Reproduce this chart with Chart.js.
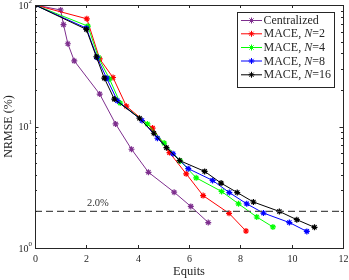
<!DOCTYPE html>
<html>
<head>
<meta charset="utf-8">
<script src="https://cdn.jsdelivr.net/npm/chart.js@4/dist/chart.umd.min.js"></script>
<style>
html,body{margin:0;padding:0;background:#fff;}
#c{display:block;}
</style>
</head>
<body>
<canvas id="c" width="349" height="280"></canvas>
<script>
// ---- data ----
const xTicks = [0, 2, 4, 6, 8, 10, 12];
const yMajorTicks = [1, 10, 100];
const yTickExponents = ['0', '1', '2'];
const thresholdValue = 2.0;
const thresholdLabel = '2.0%';
const xAxisTitle = 'Equits';
const yAxisTitle = 'NRMSE (%)';

const seriesNames = ['Centralized', 'MACE, N=2', 'MACE, N=4', 'MACE, N=8', 'MACE, N=16'];

const equitsCentralized = [0, 1.0, 1.11, 1.28, 1.53, 2.52, 3.14, 3.76, 4.42, 5.42, 6.07, 6.75];
const nrmseCentralized  = [100, 91, 69, 48, 34.7, 18.5, 10.5, 6.5, 4.2, 2.88, 2.2, 1.62];

const equitsN2 = [0, 2.02, 2.52, 3.04, 3.56, 4.58, 5.24, 5.89, 6.55, 7.56, 8.22];
const nrmseN2  = [100, 77, 36, 25.3, 14.7, 9.7, 6.1, 4.08, 2.7, 1.93, 1.38];

const equitsN4 = [0, 2.06, 2.47, 2.9, 3.32, 4.38, 5.03, 5.66, 6.28, 7.27, 7.93, 8.64, 9.27];
const nrmseN4  = [100, 67, 37, 24.7, 15.6, 10.5, 7.3, 5.2, 3.78, 2.92, 2.31, 1.8, 1.49];

const equitsN8 = [0, 2.0, 2.42, 2.79, 3.21, 4.17, 4.77, 5.38, 5.97, 6.92, 7.57, 8.25, 8.9, 9.91, 10.59];
const nrmseN8  = [100, 64.5, 37, 25, 16.3, 11.2, 8.0, 5.96, 4.5, 3.6, 2.86, 2.31, 1.94, 1.62, 1.37];

const equitsN16 = [0, 2.0, 2.39, 2.7, 3.09, 4.07, 4.63, 5.12, 5.63, 6.61, 7.25, 7.88, 8.51, 9.52, 10.2, 10.89];
const nrmseN16  = [100, 63, 37.5, 25, 16.8, 11.7, 8.8, 6.7, 5.25, 4.27, 3.42, 2.86, 2.39, 2.0, 1.71, 1.48];

const seriesColors = ['#7E2F8E', '#FF0000', '#00FF00', '#0000FF', '#000000'];

// ---- build datasets ----
const xsList = [equitsCentralized, equitsN2, equitsN4, equitsN8, equitsN16];
const ysList = [nrmseCentralized, nrmseN2, nrmseN4, nrmseN8, nrmseN16];
const toPts = (xs, ys) => xs.map((x, i) => ({x: x, y: ys[i]}));

const SERIF = "'Liberation Serif','Times New Roman',serif";
const AX = '#262626';

const datasets = seriesNames.map((name, i) => ({
  label: name,
  data: toPts(xsList[i], ysList[i]),
  borderColor: seriesColors[i],
  backgroundColor: seriesColors[i],
  borderWidth: 1,
  pointStyle: 'star',
  pointRadius: 3,
  pointBorderWidth: 1.2,
  pointHoverRadius: 3,
  tension: 0,
  order: 5 - i
}));
datasets.push({
  label: 'threshold',
  data: [{x: xTicks[0], y: thresholdValue}, {x: xTicks[xTicks.length - 1], y: thresholdValue}],
  borderColor: '#4D4D4D',
  borderWidth: 1.4,
  borderDash: [7, 4],
  pointRadius: 0,
  order: 0
});

const framePlugin = {
  id: 'frame',
  afterDraw(chart) {
    const ctx = chart.ctx;
    const a = chart.chartArea;
    const xs = chart.scales.x, ys = chart.scales.y;
    ctx.save();
    // box
    ctx.strokeStyle = AX;
    ctx.lineWidth = 1;
    ctx.strokeRect(Math.round(a.left) + 0.5, Math.round(a.top) + 0.5,
                   Math.round(a.right) - Math.round(a.left), Math.round(a.bottom) - Math.round(a.top));
    // x ticks
    ctx.fillStyle = AX;
    ctx.font = '10px ' + SERIF;
    ctx.textAlign = 'center';
    ctx.textBaseline = 'middle';
    xTicks.forEach(v => {
      const px = Math.round(xs.getPixelForValue(v)) + 0.5;
      ctx.beginPath();
      ctx.moveTo(px, a.bottom); ctx.lineTo(px, a.bottom - 3);
      ctx.moveTo(px, a.top); ctx.lineTo(px, a.top + 3);
      ctx.stroke();
      ctx.fillText(String(v), px, a.bottom + 11);
    });
    // y ticks (log, minor)
    for (let d = 1; d < 100; d *= 10) {
      for (let k = 1; k <= 9; k++) {
        const v = k * d;
        const py = Math.round(ys.getPixelForValue(v)) + 0.5;
        const len = k === 1 ? 3.5 : 2;
        ctx.beginPath();
        ctx.moveTo(a.left, py); ctx.lineTo(a.left + len, py);
        ctx.moveTo(a.right, py); ctx.lineTo(a.right - len, py);
        ctx.stroke();
      }
    }
    // y labels 10^n
    yMajorTicks.forEach((v, i) => {
      const py = ys.getPixelForValue(v);
      ctx.textAlign = 'right';
      ctx.textBaseline = 'middle';
      ctx.font = '7px ' + SERIF;
      const supW = ctx.measureText(yTickExponents[i]).width;
      ctx.fillText(yTickExponents[i], a.left - 3, py - 4);
      ctx.font = '10px ' + SERIF;
      ctx.fillText('10', a.left - 3 - supW, py + 1);
    });
    // axis titles
    ctx.font = '12.5px ' + SERIF;
    ctx.textAlign = 'center';
    ctx.textBaseline = 'middle';
    ctx.fillText(xAxisTitle, (a.left + a.right) / 2, 272);
    ctx.save();
    ctx.translate(9, (a.top + a.bottom) / 2);
    ctx.rotate(-Math.PI / 2);
    ctx.font = '12px ' + SERIF;
    ctx.fillText(yAxisTitle, 0, 0);
    ctx.restore();
    // threshold label
    ctx.font = '10.5px ' + SERIF;
    ctx.fillStyle = '#333';
    ctx.fillText(thresholdLabel, xs.getPixelForValue(2.45), ys.getPixelForValue(thresholdValue) - 8);
    // legend
    const lx = 237.5, ly = 12.5, lw = 97, lh = 75;
    ctx.fillStyle = '#fff';
    ctx.fillRect(lx, ly, lw, lh);
    ctx.strokeStyle = AX;
    ctx.lineWidth = 1;
    ctx.strokeRect(lx, ly, lw, lh);
    const rowY = [20.5, 33.8, 47.5, 61, 74.8];
    seriesNames.forEach((name, i) => {
      const y = rowY[i];
      const c = seriesColors[i];
      ctx.strokeStyle = c;
      ctx.lineWidth = 1;
      ctx.beginPath();
      ctx.moveTo(241, y); ctx.lineTo(262, y);
      ctx.stroke();
      Chart.helpers.drawPoint(ctx, {pointStyle: 'star', radius: 3, borderWidth: 1.2}, 251.5, y);
      ctx.fillStyle = AX;
      ctx.textAlign = 'left';
      ctx.textBaseline = 'middle';
      let tx = 263.5;
      const m = name.match(/^(MACE, )N(=\d+)$/);
      if (m) {
        ctx.font = '12px ' + SERIF;
        ctx.fillText(m[1], tx, y + 0.5); tx += ctx.measureText(m[1]).width;
        ctx.font = 'italic 12px ' + SERIF;
        ctx.fillText('N', tx, y + 0.5); tx += ctx.measureText('N').width;
        ctx.font = '12px ' + SERIF;
        ctx.fillText(m[2], tx, y + 0.5);
      } else {
        ctx.font = '12px ' + SERIF;
        ctx.fillText(name, tx, y + 0.5);
      }
    });
    ctx.restore();
  }
};

new Chart(document.getElementById('c'), {
  type: 'line',
  data: {datasets: datasets},
  options: {
    responsive: false,
    devicePixelRatio: 1,
    animation: false,
    events: [],
    layout: {padding: {left: 35, right: 6, top: 5, bottom: 32}},
    plugins: {legend: {display: false}, tooltip: {enabled: false}},
    scales: {
      x: {type: 'linear', min: 0, max: 12, display: false},
      y: {type: 'logarithmic', min: 1, max: 100, display: false}
    }
  },
  plugins: [framePlugin]
});
</script>
</body>
</html>
